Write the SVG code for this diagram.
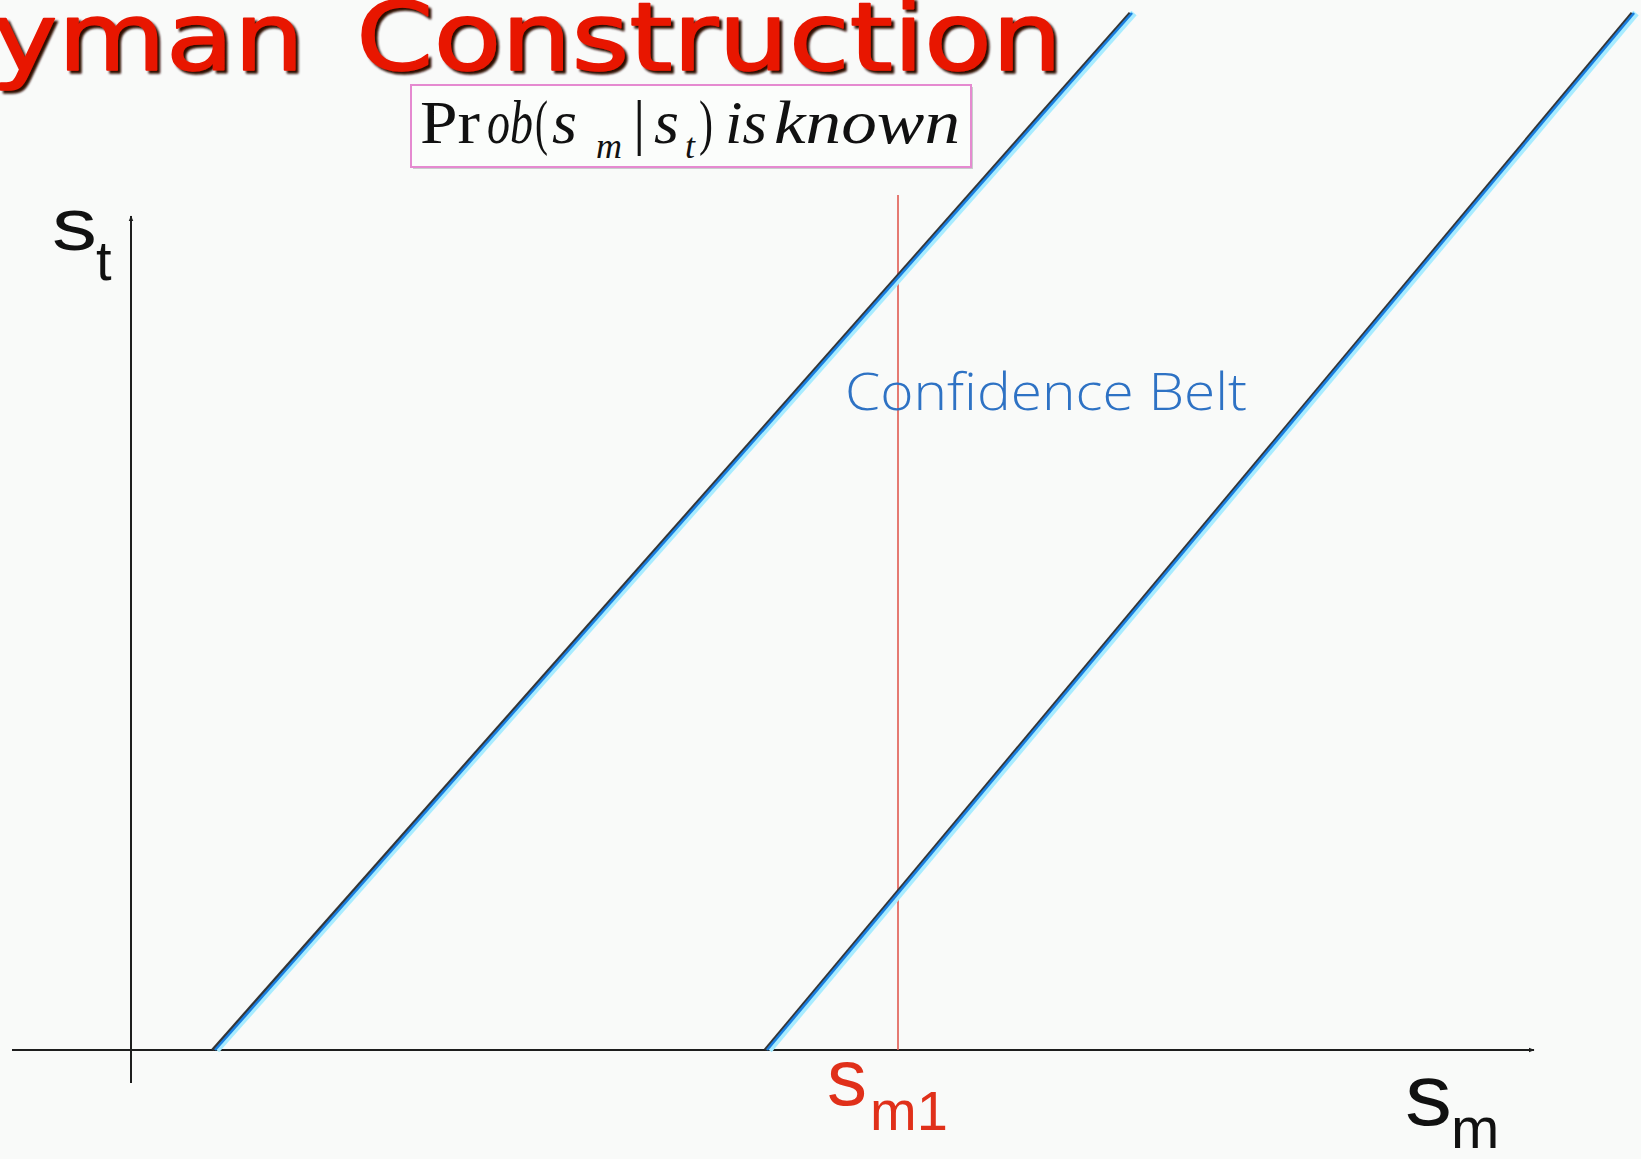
<svg xmlns="http://www.w3.org/2000/svg" width="1641" height="1159" viewBox="0 0 1641 1159">
<style>
.ax{stroke:#1e1e1e;stroke-width:2;fill:none}
.halo{stroke:#a8ecff;stroke-width:7;fill:none}
.edge{stroke:#353535;stroke-width:3;fill:none}
.core{stroke:#1a7fe0;stroke-width:2.6;fill:none}
.ttl{font-family:"DejaVu Sans",sans-serif;font-size:94px;stroke-linejoin:round;fill:#e81606;stroke:#e81606;stroke-width:1.5;filter:url(#shadow)}
.ser{font-family:"Liberation Serif",serif;font-size:62px;fill:#111}
.it{font-style:italic}
.sub{font-size:36px}
.lab{font-family:"Liberation Sans",Arial,sans-serif;fill:#111}
.red{fill:#e0301a}
</style>
<defs>
<filter id="shadow" x="-5%" y="-20%" width="110%" height="140%">
<feDropShadow dx="3" dy="3" stdDeviation="1.2" flood-color="#2e0c04" flood-opacity="1"/>
</filter>
<marker id="arr" viewBox="0 0 10 10" refX="9" refY="5" markerWidth="6" markerHeight="6" orient="auto" markerUnits="userSpaceOnUse">
<path d="M0,1 L10,5 L0,9 z" fill="#1e1e1e"/>
</marker>
</defs>
<rect width="1641" height="1159" fill="#f9faf9"/>

<g id="title">
<text class="ttl" x="-8" y="70" textLength="312" lengthAdjust="spacingAndGlyphs">yman</text>
<text class="ttl" x="356" y="70" textLength="706" lengthAdjust="spacingAndGlyphs">Construction</text>
</g>

<g id="connectors">
<line class="ax" x1="12" y1="1050" x2="1534" y2="1050" marker-end="url(#arr)"/>
<line class="ax" x1="131" y1="1083" x2="131" y2="216" marker-end="url(#arr)"/>
<line x1="898" y1="195" x2="898" y2="1050" stroke="#e05a50" stroke-width="1.6"/>
<g id="belt-left">
<line class="halo" x1="216.5" y1="1050" x2="1134" y2="13"/>
<line class="edge" x1="212.5" y1="1050" x2="1130" y2="13"/>
<line class="core" x1="215" y1="1050" x2="1132" y2="13"/>
</g>
<g id="belt-right">
<line class="halo" x1="769" y1="1050" x2="1636" y2="13"/>
<line class="edge" x1="765" y1="1050" x2="1632" y2="13"/>
<line class="core" x1="767" y1="1050" x2="1634" y2="13"/>
</g>
</g>

<g id="prob-box">
<rect x="413" y="87" width="560" height="82" fill="#9aa0a0" opacity="0.5"/>
<rect x="411" y="85" width="560" height="82" fill="#fbfdfb" stroke="#e58ad0" stroke-width="2"/>
<text class="ser" y="143"><tspan x="420" textLength="60" lengthAdjust="spacingAndGlyphs">Pr</tspan><tspan class="it" x="487" textLength="46" lengthAdjust="spacingAndGlyphs">ob</tspan><tspan x="535" textLength="13" lengthAdjust="spacingAndGlyphs">(</tspan><tspan class="it" x="552" textLength="25" lengthAdjust="spacingAndGlyphs">s</tspan><tspan class="it sub" x="596" y="158">m</tspan><tspan x="633" y="143">|</tspan><tspan class="it" x="654" textLength="25" lengthAdjust="spacingAndGlyphs">s</tspan><tspan class="it sub" x="685" y="158">t</tspan><tspan x="699" y="143" textLength="14" lengthAdjust="spacingAndGlyphs">)</tspan><tspan class="it" x="725" textLength="42" lengthAdjust="spacingAndGlyphs">is</tspan><tspan class="it" x="774" textLength="186" lengthAdjust="spacingAndGlyphs">known</tspan></text>
</g>

<g id="label-st">
<text class="lab" x="52" y="250" font-size="74" textLength="45" lengthAdjust="spacingAndGlyphs">s</text>
<text class="lab" x="96" y="280" font-size="56">t</text>
</g>

<g id="label-belt">
<text x="845" y="410" font-family="Open Sans, sans-serif" font-weight="300" font-size="52" fill="#2e72c4" textLength="402" lengthAdjust="spacingAndGlyphs">Confidence Belt</text>
</g>

<g id="label-sm1">
<text class="lab red" x="827" y="1105" font-size="80" textLength="40" lengthAdjust="spacingAndGlyphs">s</text>
<text class="lab red" x="870" y="1130" font-size="56">m1</text>
</g>

<g id="label-sm">
<text class="lab" x="1405" y="1125" font-size="88" textLength="47" lengthAdjust="spacingAndGlyphs">s</text>
<text class="lab" x="1451" y="1148" font-size="58">m</text>
</g>
</svg>
